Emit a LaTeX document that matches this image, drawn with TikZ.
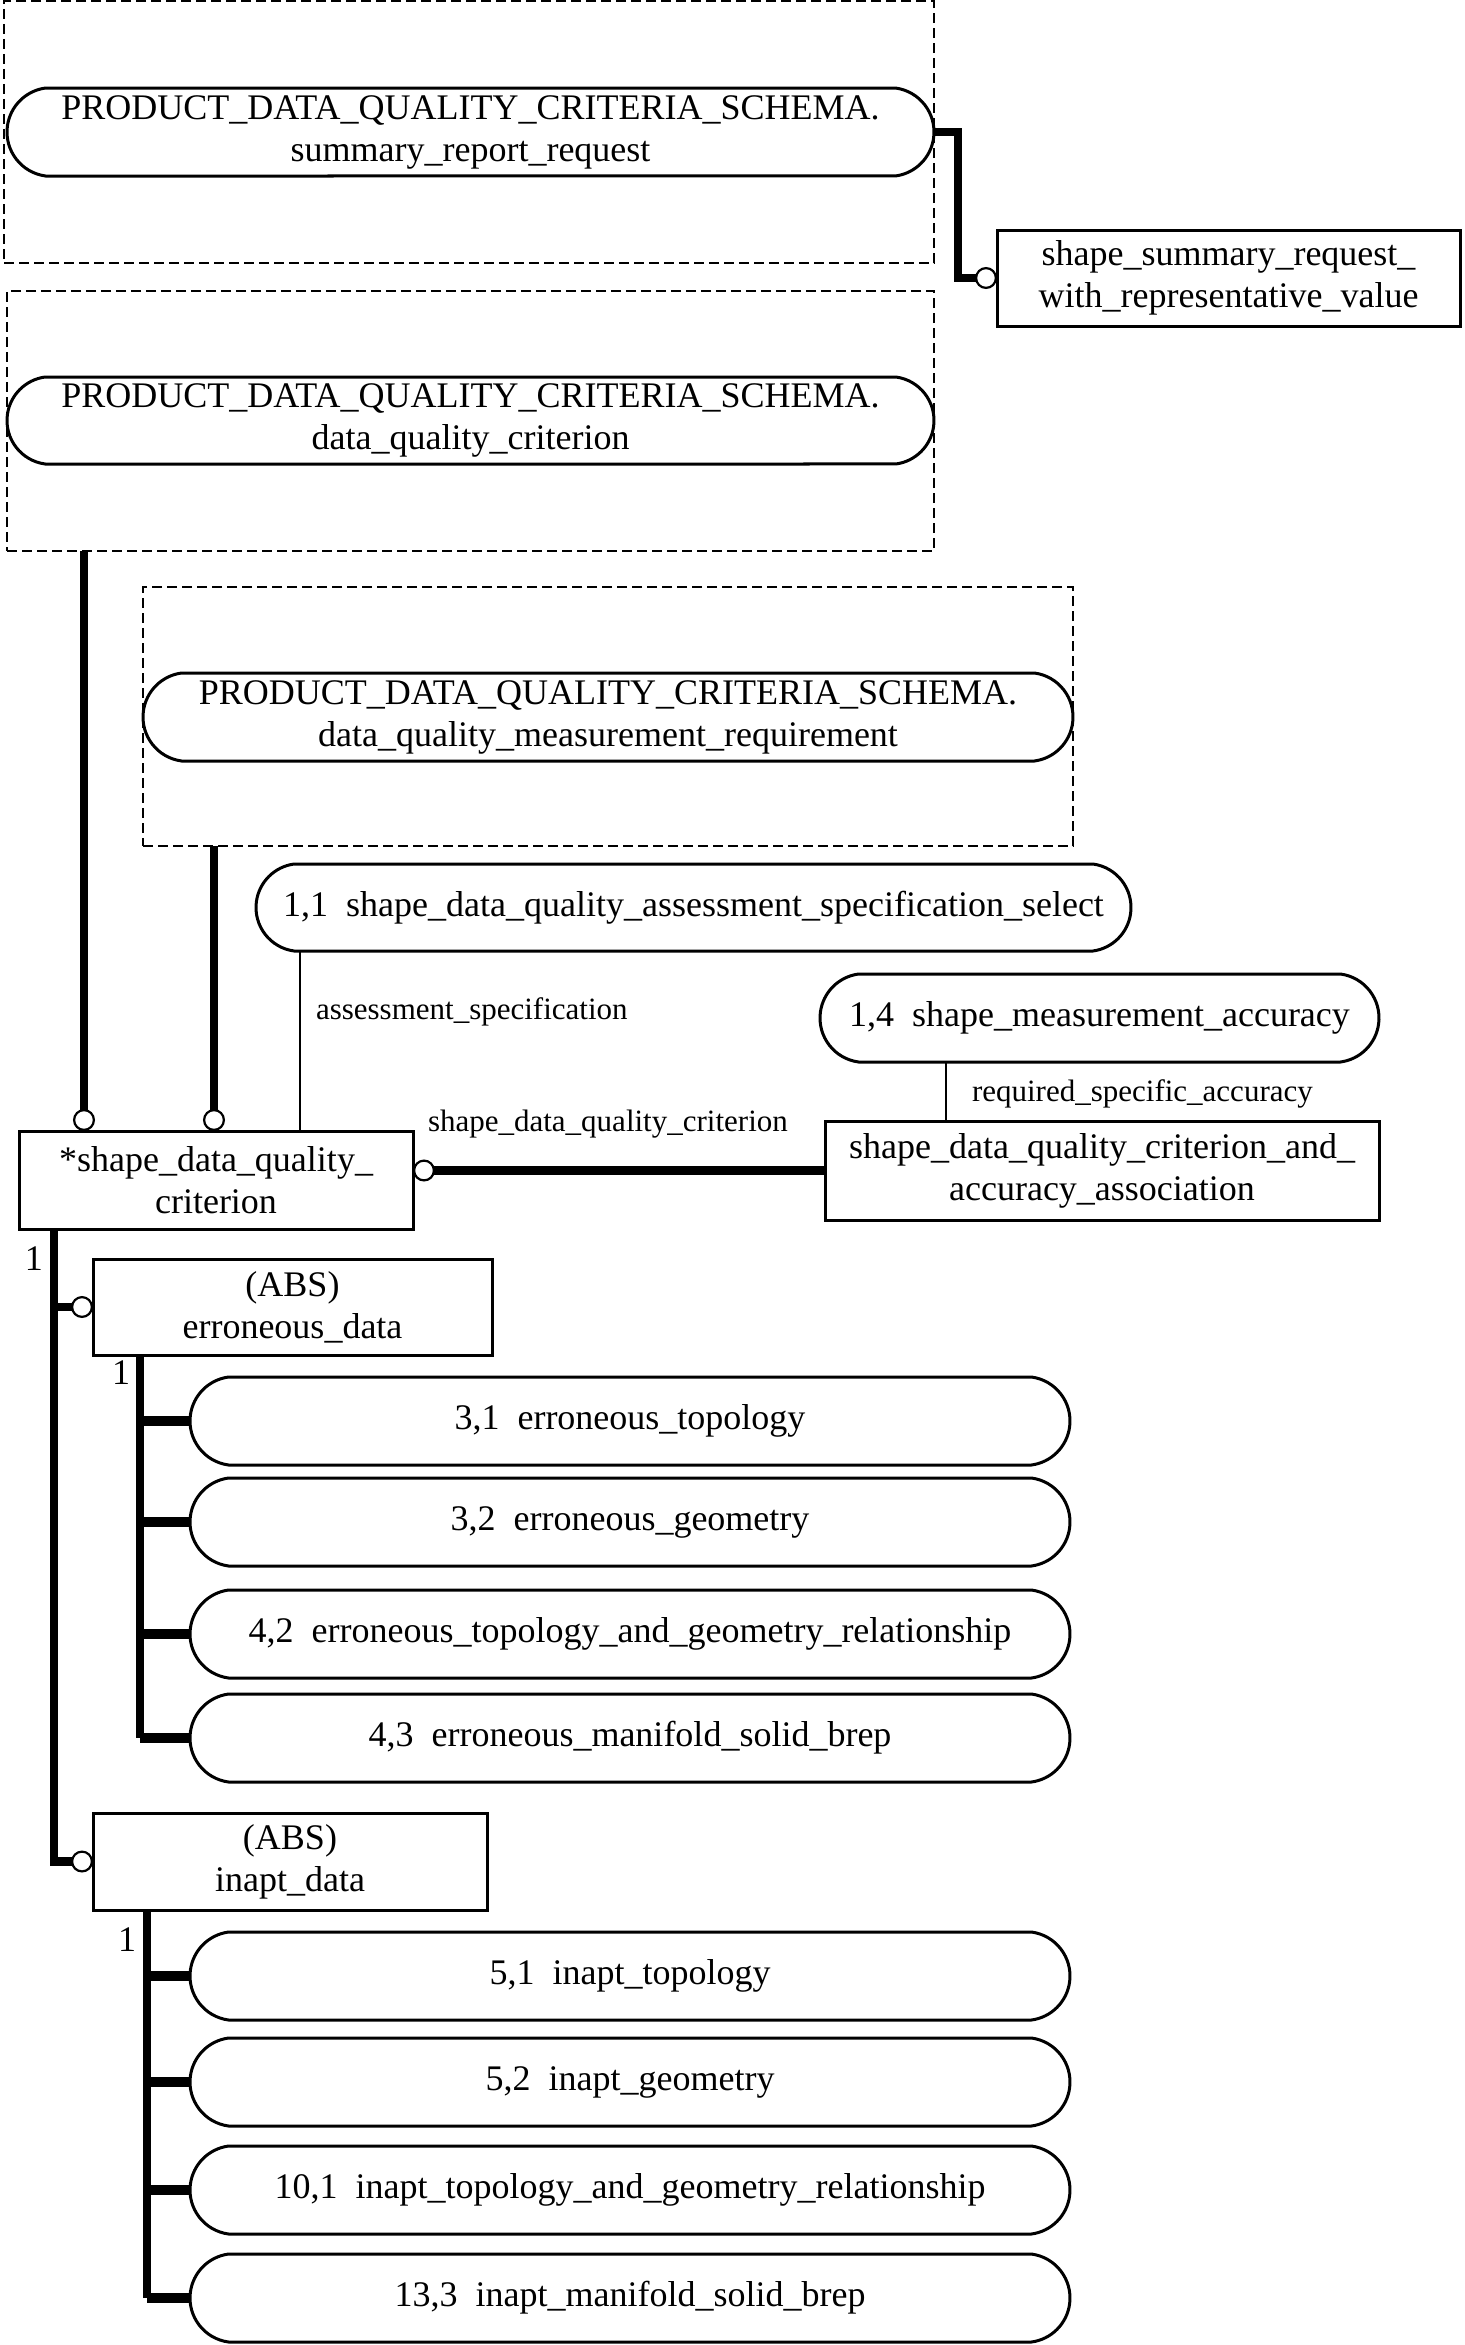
\documentclass[tikz,border=0pt]{standalone}
\usepackage{fontspec}
\setmainfont{Liberation Serif}
\usetikzlibrary{arrows.meta,shapes.misc}

\begin{document}
\begin{tikzpicture}[x=.5pt,y=-.5pt,
  ent/.style={draw,line width=1.5pt,inner sep=0pt,outer sep=0pt,align=center,font=\fontsize{18}{21}\selectfont},
  entoval/.style={ent,rounded rectangle,rounded rectangle arc length=165},
  schemaframe/.style={draw,line width=1.3pt,dash pattern=on 5pt off 2.5pt,inner sep=0pt,outer sep=0pt},
  thickrel/.style={line width=4.25pt},
  thinrel/.style={line width=1.3pt},
  subrel/.style={line width=5.25pt},
  optend/.style={-{Circle[open,length=11pt,width=11pt,line width=1.1pt]}},
  rolelabel/.style={inner sep=0pt,outer sep=0pt,anchor=west,font=\fontsize{15.5}{18}\selectfont},
  cardlabel/.style={inner sep=0pt,outer sep=0pt,font=\fontsize{18}{21}\selectfont}]
\path[use as bounding box] (0,0) rectangle (1465,2345);
\path[fill=white,draw=none] (0,0) rectangle (1465,2345);
\node[schemaframe,minimum width=465pt,minimum height=131pt] (srrframe) at (469,132) {};
\node[entoval,minimum width=463.5pt,minimum height=44pt] (srr) at (470.5,132) {PRODUCT\_DATA\_QUALITY\_CRITERIA\_SCHEMA.\\summary\_report\_request};
\node[ent,minimum width=231.5pt,minimum height=48pt] (sswrv) at (1228.5,278) {shape\_summary\_request\_\\with\_representative\_value};
\node[schemaframe,minimum width=463.5pt,minimum height=130pt] (dqcframe) at (470.5,421) {};
\node[entoval,minimum width=463.5pt,minimum height=43.5pt] (dqc) at (470.5,420.5) {PRODUCT\_DATA\_QUALITY\_CRITERIA\_SCHEMA.\\data\_quality\_criterion};
\node[schemaframe,minimum width=465pt,minimum height=129.5pt] (dqmrframe) at (608,716.5) {};
\node[entoval,minimum width=465pt,minimum height=44pt] (dqmr) at (608,717) {PRODUCT\_DATA\_QUALITY\_CRITERIA\_SCHEMA.\\data\_quality\_measurement\_requirement};
\node[entoval,minimum width=437.5pt,minimum height=43.5pt] (assess) at (693.5,907.5) {1,1~~shape\_data\_quality\_assessment\_specification\_select};
\node[entoval,minimum width=279.5pt,minimum height=44pt] (accuracy) at (1099.5,1018) {1,4~~shape\_measurement\_accuracy};
\node[ent,minimum width=197pt,minimum height=49pt] (sdqc) at (216,1180) {*shape\_data\_quality\_\\criterion};
\node[ent,minimum width=277pt,minimum height=49.5pt] (assoc) at (1102,1170.5) {shape\_data\_quality\_criterion\_and\_\\accuracy\_association};
\node[ent,minimum width=199.5pt,minimum height=48pt] (err) at (292.5,1307) {(ABS)\\erroneous\_data};
\node[entoval,minimum width=440pt,minimum height=44pt] (e31) at (630,1421) {3,1~~erroneous\_topology};
\node[entoval,minimum width=440pt,minimum height=44pt] (e32) at (630,1522) {3,2~~erroneous\_geometry};
\node[entoval,minimum width=440pt,minimum height=44pt] (e42) at (630,1634) {4,2~~erroneous\_topology\_and\_geometry\_relationship};
\node[entoval,minimum width=440pt,minimum height=44pt] (e43) at (630,1738) {4,3~~erroneous\_manifold\_solid\_brep};
\node[ent,minimum width=197pt,minimum height=48.5pt] (inapt) at (290,1861.5) {(ABS)\\inapt\_data};
\node[entoval,minimum width=440pt,minimum height=44pt] (i51) at (630,1976) {5,1~~inapt\_topology};
\node[entoval,minimum width=440pt,minimum height=44pt] (i52) at (630,2082) {5,2~~inapt\_geometry};
\node[entoval,minimum width=440pt,minimum height=44pt] (i101) at (630,2190) {10,1~~inapt\_topology\_and\_geometry\_relationship};
\node[entoval,minimum width=440pt,minimum height=44pt] (i133) at (630,2298) {13,3~~inapt\_manifold\_solid\_brep};
\node[rolelabel] (assesslabel) at (316,1012) {assessment\_specification};
\node[rolelabel] (acclabel) at (972,1094) {required\_specific\_accuracy};
\node[rolelabel] (sdqclabel) at (428,1124) {shape\_data\_quality\_criterion};
\node[cardlabel] (errcard) at (34,1259) {1};
\node[cardlabel] (e31card) at (121,1373) {1};
\node[cardlabel] (i51card) at (127,1940) {1};
\coordinate (leftdrop) at (84,0);
\coordinate (middrop) at (214,0);
\coordinate (assessdrop) at (300,0);
\coordinate (accdrop) at (946,0);
\coordinate (trunk) at (54,0);
\coordinate (errtrunk) at (140,0);
\coordinate (inapttrunk) at (147,0);
\draw[thickrel,optend] (srr.east) -- ++(24,0) |- (sswrv.west);
\draw[thickrel,optend] (dqcframe.south -| leftdrop) -- (sdqc.north -| leftdrop);
\draw[thickrel,optend] (dqmrframe.south -| middrop) -- (sdqc.north -| middrop);
\draw[thinrel] (assess.south -| assessdrop) -- (sdqc.north -| assessdrop);
\draw[thinrel] (accuracy.south -| accdrop) -- (assoc.north -| accdrop);
\draw[thickrel,optend] (assoc.west) -- (assoc.west -| sdqc.east);
\draw[thickrel,optend] (sdqc.south -| trunk) |- (inapt.west);
\draw[thickrel,optend] (err.west -| trunk) -- (err.west);
\draw[thickrel] (err.south -| errtrunk) -- (e43.west -| errtrunk);
\draw[subrel] (e31.west -| errtrunk) -- (e31.west);
\draw[subrel] (e32.west -| errtrunk) -- (e32.west);
\draw[subrel] (e42.west -| errtrunk) -- (e42.west);
\draw[subrel] (e43.west -| errtrunk) -- (e43.west);
\draw[thickrel] (inapt.south -| inapttrunk) -- (i133.west -| inapttrunk);
\draw[subrel] (i51.west -| inapttrunk) -- (i51.west);
\draw[subrel] (i52.west -| inapttrunk) -- (i52.west);
\draw[subrel] (i101.west -| inapttrunk) -- (i101.west);
\draw[subrel] (i133.west -| inapttrunk) -- (i133.west);
\end{tikzpicture}
\end{document}
